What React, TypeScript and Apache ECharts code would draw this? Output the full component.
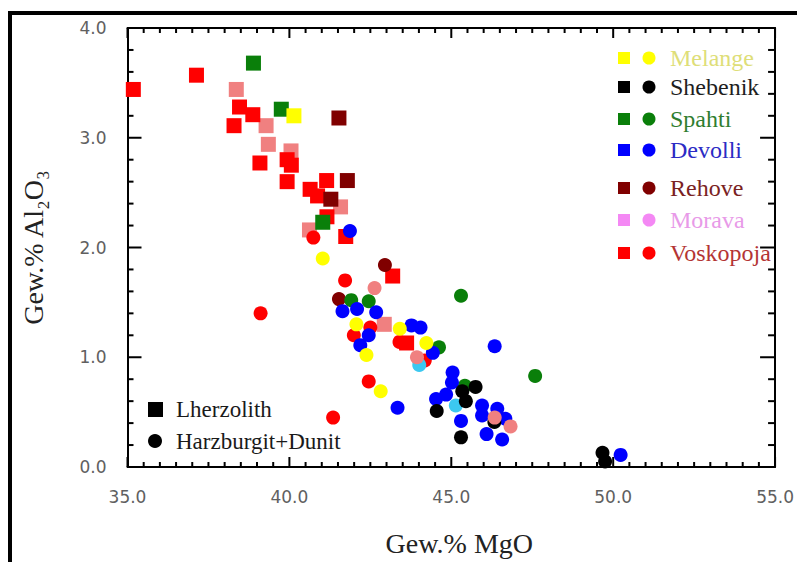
import React, { useEffect, useRef } from "react";
import * as echarts from "echarts";

type Pt = [number, number];

// Groups (legend order)
const groupNames = ["Melange", "Shebenik", "Spahti", "Devolli", "Rehove", "Morava", "Voskopoja"];
const legendMarkerColors = ["#ffff00", "#000000", "#0a7f0a", "#0000ff", "#800000", "#f488f4", "#ff0000"];
const legendTextColors = ["#dede78", "#1e1e1e", "#2f7d2f", "#2b2bc4", "#7a2222", "#e89ae8", "#b43434"];

// Point colors in the plot
const colMelange = "#ffff00";
const colShebenik = "#000000";
const colSpahti = "#0a7f0a";
const colDevolli = "#0000ff";
const colRehove = "#800000";
const colMorava = "#f08080";
const colVoskopoja = "#ff0000";
const colExtra = "#3cc8f0";

// Axis ticks
const xTicks = [35, 40, 45, 50, 55];
const yTicks = [0, 1, 2, 3, 4];
const xMinorPerMajor = 10;
const yMinorPerMajor = 5;

// Lherzolith (squares): [MgO, Al2O3]
const moravaLherz: Pt[] = [[38.36, 3.44], [39.28, 3.11], [39.35, 2.94], [40.05, 2.88], [41.58, 2.37], [40.62, 2.16], [42.93, 1.30]];
const voskopojaLherz: Pt[] = [
  [35.18, 3.44], [37.13, 3.57], [38.46, 3.28], [38.87, 3.21], [38.29, 3.11], [39.09, 2.77],
  [39.93, 2.80], [40.06, 2.75], [39.93, 2.60], [40.64, 2.53], [41.15, 2.61], [40.87, 2.47],
  [41.16, 2.28], [41.74, 2.10], [43.19, 1.74], [43.62, 1.13],
];
const rehoveLherz: Pt[] = [[41.53, 3.18], [41.79, 2.61], [41.28, 2.44]];
const spahtiLherz: Pt[] = [[38.89, 3.68], [39.75, 3.26], [41.03, 2.23]];
const melangeLherz: Pt[] = [[40.14, 3.20]];

// Harzburgit + Dunit (circles)
const voskopojaHarz: Pt[] = [[40.74, 2.09], [41.72, 1.70], [39.11, 1.40], [42.50, 1.27], [41.99, 1.20], [42.45, 0.78], [41.35, 0.45], [44.18, 0.97], [43.40, 1.14]];
const rehoveHarz: Pt[] = [[42.95, 1.84], [41.53, 1.53]];
const spahtiHarz: Pt[] = [[41.91, 1.52], [42.45, 1.51], [45.30, 1.56], [44.62, 1.09], [47.59, 0.83], [45.42, 0.74]];
const devolliHarz: Pt[] = [
  [41.87, 2.15], [41.64, 1.42], [42.09, 1.44], [42.68, 1.41], [42.45, 1.20], [42.19, 1.11],
  [43.77, 1.29], [44.05, 1.27], [43.34, 0.54], [46.34, 1.10], [45.04, 0.86], [45.02, 0.77],
  [44.84, 0.66], [44.53, 0.62], [45.30, 0.42], [45.95, 0.56], [45.95, 0.47], [46.42, 0.53],
  [46.67, 0.44], [46.09, 0.30], [46.57, 0.25], [50.23, 0.11], [44.43, 1.04],
];
const extraHarz: Pt[] = [[45.14, 0.56], [44.01, 0.93]];
const melangeHarz: Pt[] = [[41.03, 1.90], [42.07, 1.30], [43.41, 1.26], [44.23, 1.13], [42.38, 1.02], [42.82, 0.69]];
const shebenikHarz: Pt[] = [[45.75, 0.73], [45.34, 0.69], [45.45, 0.60], [44.55, 0.51], [45.30, 0.27], [46.33, 0.41], [49.67, 0.13], [49.75, 0.05]];
const moravaHarz: Pt[] = [[42.63, 1.63], [43.94, 1.00], [46.34, 0.45], [46.83, 0.37]];

const SQ = 15;
const CI = 14;

function sq(name: string, data: Pt[], color: string) {
  return { name, type: "scatter", symbol: "rect", symbolSize: SQ, data, itemStyle: { color, opacity: 1 }, z: 2 };
}
function ci(name: string, data: Pt[], color: string) {
  return { name, type: "scatter", symbol: "circle", symbolSize: CI, data, itemStyle: { color, opacity: 1 }, z: 3 };
}

export default function App() {
  const ref = useRef<HTMLDivElement>(null);
  useEffect(() => {
    document.body.style.margin = "0";
    if (!ref.current) return;
    const chart = echarts.init(ref.current, undefined, { renderer: "svg" });

    const tickFont = { color: "#606060", fontFamily: "DejaVu Sans", fontSize: 17 };
    const fmt = (v: number) => v.toFixed(1);

    const xMin = xTicks[0], xMax = xTicks[xTicks.length - 1];
    const yMin = yTicks[0], yMax = yTicks[yTicks.length - 1];
    const xStep = (xTicks[1] - xTicks[0]) / xMinorPerMajor;
    const yStep = (yTicks[1] - yTicks[0]) / yMinorPerMajor;

    const legendGraphics: any[] = [];
    const rowY = [58, 87, 119, 150, 188, 220, 253];
    groupNames.forEach((g, i) => {
      legendGraphics.push({ type: "rect", shape: { x: 618, y: rowY[i] - 6, width: 12, height: 12 }, style: { fill: legendMarkerColors[i] } });
      legendGraphics.push({ type: "circle", shape: { cx: 649, cy: rowY[i], r: 6.5 }, style: { fill: legendMarkerColors[i] } });
      legendGraphics.push({
        type: "text", x: 670, y: rowY[i],
        style: { text: g, fill: legendTextColors[i], font: '24px "Liberation Serif"', verticalAlign: "middle", align: "left" },
      });
    });
    legendGraphics.push({ type: "rect", shape: { x: 148, y: 402, width: 15, height: 15 }, style: { fill: "#000" } });
    legendGraphics.push({ type: "circle", shape: { cx: 155, cy: 441, r: 7 }, style: { fill: "#000" } });
    legendGraphics.push({ type: "text", x: 176, y: 409, style: { text: "Lherzolith", fill: "#1a1a1a", font: '23px "Liberation Serif"', verticalAlign: "middle" } });
    legendGraphics.push({ type: "text", x: 176, y: 441, style: { text: "Harzburgit+Dunit", fill: "#1a1a1a", font: '23px "Liberation Serif"', verticalAlign: "middle" } });
    legendGraphics.push({ type: "rect", shape: { x: 10, y: 13, width: 1200, height: 1200 }, style: { fill: "none", stroke: "#000", lineWidth: 4 } });

    const baseX = {
      type: "value", min: xMin, max: xMax, interval: xTicks[1] - xTicks[0],
      splitLine: { show: false },
      axisTick: { show: false },
      axisLine: { show: true, onZero: false, lineStyle: { color: "#000", width: 2 } },
    };
    const baseY = {
      type: "value", min: yMin, max: yMax, interval: yTicks[1] - yTicks[0],
      splitLine: { show: false },
      axisTick: { show: false },
      axisLine: { show: true, onZero: false, lineStyle: { color: "#000", width: 2 } },
    };

    chart.setOption({
      animation: false,
      backgroundColor: "#fff",
      grid: { left: 127.5, right: 14, top: 28, bottom: 94, containLabel: false },
      xAxis: [
        {
          ...baseX, position: "bottom",
          axisLabel: { ...tickFont, margin: 21, formatter: fmt, showMinLabel: true, showMaxLabel: true },
          name: "Gew.% MgO", nameLocation: "middle", nameGap: 62,
          nameTextStyle: { fontFamily: "Liberation Serif", fontSize: 28, color: "#222", padding: [0, 0, 0, 16] },
        },
        { ...baseX, position: "top", axisLabel: { show: false } },
      ],
      yAxis: [
        {
          ...baseY, position: "left",
          axisLabel: { ...tickFont, margin: 21, formatter: fmt },
          name: "Gew.% Al\u2082O\u2083", nameLocation: "middle", nameGap: 80, nameRotate: 90,
          nameTextStyle: { fontFamily: "Liberation Serif", fontSize: 28, color: "#222" },
        },
        { ...baseY, position: "right", axisLabel: { show: false } },
      ],
      series: [
        sq("Morava Lherzolith", moravaLherz, colMorava),
        sq("Voskopoja Lherzolith", voskopojaLherz, colVoskopoja),
        sq("Rehove Lherzolith", rehoveLherz, colRehove),
        sq("Spahti Lherzolith", spahtiLherz, colSpahti),
        sq("Melange Lherzolith", melangeLherz, colMelange),
        ci("Voskopoja Harzburgit+Dunit", voskopojaHarz, colVoskopoja),
        ci("Rehove Harzburgit+Dunit", rehoveHarz, colRehove),
        ci("Spahti Harzburgit+Dunit", spahtiHarz, colSpahti),
        ci("Devolli Harzburgit+Dunit", devolliHarz, colDevolli),
        ci("Devolli (hell)", extraHarz, colExtra),
        ci("Melange Harzburgit+Dunit", melangeHarz, colMelange),
        ci("Shebenik Harzburgit+Dunit", shebenikHarz, colShebenik),
        ci("Morava Harzburgit+Dunit", moravaHarz, colMorava),
      ],
      graphic: legendGraphics,
    });

    // Inside frame ticks as thin filled rects, positioned through the chart's own scales
    const ticks: any[] = [];
    const px = (x: number, y: number) => chart.convertToPixel({ gridIndex: 0 }, [x, y]) as number[];
    const W = 2;
    const b0 = px(xMin, yMin);
    const t1 = px(xMax, yMax);
    const nX = Math.round((xMax - xMin) / xStep);
    for (let i = 0; i <= nX; i++) {
      const x = px(xMin + i * xStep, yMin)[0];
      const len = i % xMinorPerMajor === 0 ? 10 : 5;
      ticks.push({ type: "rect", shape: { x: x - W / 2, y: b0[1] - len, width: W, height: len }, style: { fill: "#000" } });
      ticks.push({ type: "rect", shape: { x: x - W / 2, y: t1[1], width: W, height: len }, style: { fill: "#000" } });
    }
    const nY = Math.round((yMax - yMin) / yStep);
    for (let j = 0; j <= nY; j++) {
      const y = px(xMin, yMin + j * yStep)[1];
      const major = j % yMinorPerMajor === 0;
      const lenL = major ? 14 : 6;
      const lenR = major ? 15 : 7;
      ticks.push({ type: "rect", shape: { x: b0[0], y: y - W / 2, width: lenL, height: W }, style: { fill: "#000" } });
      ticks.push({ type: "rect", shape: { x: t1[0] - lenR, y: y - W / 2, width: lenR, height: W }, style: { fill: "#000" } });
    }
    chart.setOption({ graphic: [...legendGraphics, ...ticks] });
    return () => chart.dispose();
  }, []);
  return <div ref={ref} style={{ width: 797, height: 562 }} />;
}
